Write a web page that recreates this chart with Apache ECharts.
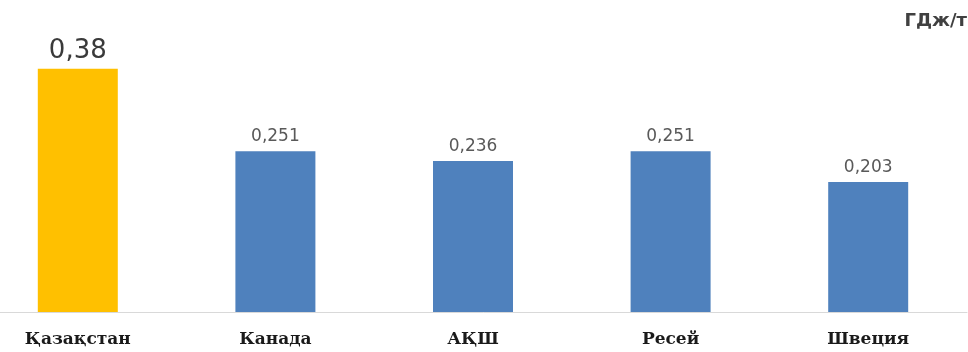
<!DOCTYPE html>
<html>
<head>
<meta charset="utf-8">
<script src="https://cdn.jsdelivr.net/npm/echarts@6/dist/echarts.min.js"></script>
<style>html,body{margin:0;padding:0;background:#fff;}#c{width:968px;height:352px;}</style>
</head>
<body>
<div id="c"></div>
<script>
const categories = ['Қазақстан', 'Канада', 'АҚШ', 'Ресей', 'Швеция'];
const values = [0.38, 0.251, 0.236, 0.251, 0.203];
const valueLabels = ['0,38', '0,251', '0,236', '0,251', '0,203'];
const unitLabel = 'ГДж/т';
const highlightIndex = 0;

const chart = echarts.init(document.getElementById('c'));
const data = values.map(function (v, i) {
  const hi = i === highlightIndex;
  return {
    value: v,
    itemStyle: { color: hi ? '#FFC000' : '#4F81BD' },
    label: hi ? { fontSize: 26, color: '#3a3a3a', distance: 5 } : {}
  };
});

chart.setOption({
  animation: false,
  backgroundColor: '#ffffff',
  grid: { left: -21, right: 1, top: 56, bottom: 40, containLabel: false, outerBoundsMode: 'none' },
  xAxis: {
    type: 'category',
    data: categories,
    axisLine: { show: true, lineStyle: { color: '#d9d9d9', width: 1 } },
    axisTick: { show: false },
    axisLabel: {
      margin: 19,
      fontFamily: 'DejaVu Serif',
      fontWeight: 'bold',
      fontSize: 17,
      color: '#1a1a1a',
      interval: 0
    }
  },
  yAxis: {
    type: 'value',
    min: 0,
    max: 0.4,
    show: false,
    splitLine: { show: false }
  },
  series: [{
    type: 'bar',
    data: data,
    barWidth: 80,
    label: {
      show: true,
      position: 'top',
      distance: 6,
      fontFamily: 'DejaVu Sans',
      fontSize: 17,
      color: '#595959',
      formatter: function (p) { return valueLabels[p.dataIndex]; }
    }
  }],
  graphic: [{
    type: 'text',
    right: 1,
    top: 12,
    style: {
      text: unitLabel,
      font: 'bold 18px "DejaVu Sans"',
      fill: '#404040'
    }
  }]
});
</script>
</body>
</html>
